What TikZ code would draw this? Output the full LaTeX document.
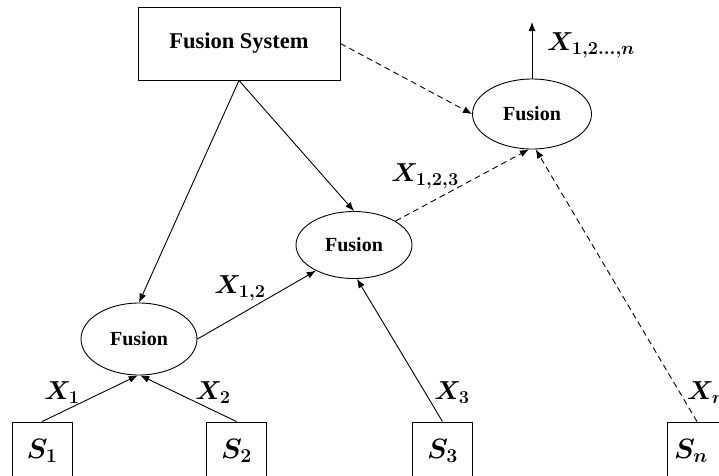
\RequirePackage{fix-cm}
\documentclass[tikz,border=0pt]{standalone}
\usepackage{fontspec}
\newfontfamily\boxserif{Liberation Serif}
\usetikzlibrary{shapes.geometric,arrows.meta}

\begin{document}
\begin{tikzpicture}[x=1pt,y=-1pt,
  box/.style={draw, rectangle, line width=0.9pt, inner sep=0pt},
  fuse/.style={draw, ellipse, line width=0.9pt, inner sep=0pt,
    font=\boxserif\bfseries\fontsize{20}{24}\selectfont},
  flow/.style={line width=0.9pt, -{Latex[length=9pt,width=7pt]}},
  dflow/.style={flow, dash pattern=on 6pt off 4pt},
  sig/.style={inner sep=0pt, font=\fontsize{26}{30}\selectfont\boldmath},
  src/.style={box, minimum width=60pt, minimum height=58pt,
    font=\fontsize{28}{32}\selectfont\boldmath}
]
\useasboundingbox (0,0) rectangle (719,475);
\clip (0,0) rectangle (719,475);

% controller and fusion stages
\node[box, minimum width=202pt, minimum height=73pt,
  font=\boxserif\bfseries\fontsize{22.5}{26}\selectfont] (fs) at (239,43.5) {Fusion System};
\node[fuse, minimum width=119pt, minimum height=70pt] (e3) at (532,114) {Fusion};
\node[fuse, minimum width=116pt, minimum height=67pt] (e2) at (354,245) {Fusion};
\node[fuse, minimum width=116pt, minimum height=72pt] (e1) at (139,339) {Fusion};

% sensors
\node[src] (s1) at (42,451) {$S_1$};
\node[src] (s2) at (236.5,451) {$S_2$};
\node[src] (s3) at (442.5,451) {$S_3$};
\node[src] (sn) at (697,451) {\hspace*{-12pt}$S_n$};

% sensor outputs
\draw[flow] (s1.north) -- (e1.268);
\draw[flow] (s2.north) -- (e1.272);
\draw[flow] (s3.north) -- (e2.-85);
\draw[dflow] (sn.north) -- (e3.-84);

% fusion chain
\draw[flow] (e1.east) -- (e2.214);
\draw[dflow] (e2.30) -- (e3.-95);
\coordinate (out) at (532,22);
\draw[flow] (e3.north) -- (out);

% control links
\draw[flow] (fs.south) -- (e1.north);
\draw[flow] (fs.south) -- (e2.north);
\draw[dflow] (fs.east) -- (e3.west);

% signal labels
\node[sig] (lx1) at (62,393) {$X_1$};
\node[sig] (lx2) at (213,393) {$X_2$};
\node[sig] (lx3) at (452,393) {$X_3$};
\node[sig, anchor=west] (lxn) at (687,393) {$X_n$};
\node[sig] (lx12) at (240,288) {$X_{1,2}$};
\node[sig] (lx123) at (425,176) {$X_{1,2,3}$};
\node[sig] (lxall) at (591,45) {$X_{1,2\ldots,n}$};
\end{tikzpicture}
\end{document}
